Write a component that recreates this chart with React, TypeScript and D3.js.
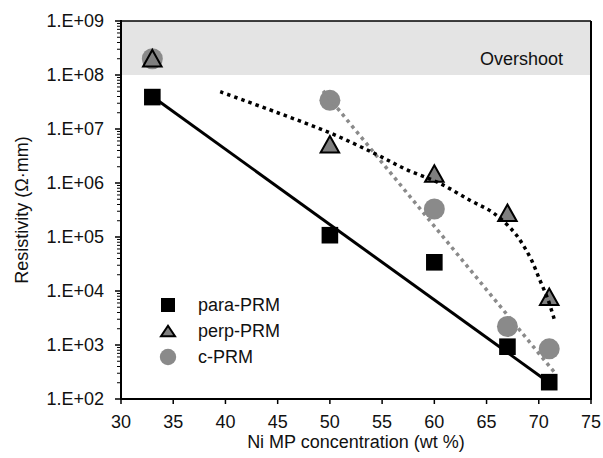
import React from 'react'
import * as d3 from 'd3'

// measured points
const paraX = [33, 50, 60, 67, 71]
const paraY = [3.9e7, 1.08e5, 3.4e4, 930, 205]

const perpX = [33, 50, 60, 67, 71]
const perpY = [2.05e8, 5.2e6, 1.5e6, 2.8e5, 7.8e3]

const cX = [33, 50, 60, 67, 71]
const cY = [2.0e8, 3.4e7, 3.3e5, 2.2e3, 850]

// trendlines
const paraTrendX = [33, 71]
const paraTrendY = [4.0e7, 2.0e2]

const cTrendX = [49.35, 71.45]
const cTrendY = [5.1e7, 3.2e2]

const perpTrendX = [39.5, 45, 50, 54.3, 57.4, 60.5, 63.4, 65.7, 67.6, 68.5, 69.3, 70.1, 70.9, 71.55]
const perpTrendY = [4.9e7, 2.0e7, 8.5e6, 3.5e6, 1.75e6, 9.9e5, 4.8e5, 2.75e5, 1.25e5, 7.1e4, 3.75e4, 1.6e4, 6.8e3, 2.7e3]

const xTicks = [30, 35, 40, 45, 50, 55, 60, 65, 70, 75]
const yTicks = [1e2, 1e3, 1e4, 1e5, 1e6, 1e7, 1e8, 1e9]
const yTickLabels = ['1.E+02', '1.E+03', '1.E+04', '1.E+05', '1.E+06', '1.E+07', '1.E+08', '1.E+09']

const legendNames = ['para-PRM', 'perp-PRM', 'c-PRM']
const overshootFrom = 1e8

const W = 603, H = 458
const FONT = '"Liberation Sans", Arial, sans-serif'
const GRAY = '#8a8a8a'

function zip(xs: number[], ys: number[]) {
  return xs.map((x, i) => [x, ys[i]] as [number, number])
}

function tri(cx: number, cy: number, w: number, h: number) {
  return `M${cx},${cy - h / 2}L${cx + w / 2},${cy + h / 2}L${cx - w / 2},${cy + h / 2}Z`
}

export default function App() {
  const left = 121, right = 591, top = 21, bottom = 399

  const x = d3.scaleLinear().domain([30, 75]).range([left, right])
  const y = d3.scaleLog().domain([1e2, 1e9]).range([bottom, top])

  const line = d3.line<[number, number]>().x(d => x(d[0])).y(d => y(d[1]))
  const curve = d3.line<[number, number]>()
    .x(d => x(d[0])).y(d => y(d[1]))
    .curve(d3.curveCatmullRom)

  const minor: number[] = []
  for (let e = 2; e < 9; e++) {
    for (let m = 2; m <= 9; m++) minor.push(m * Math.pow(10, e))
  }

  const legendX = 168, legendText = 198
  const legendY = [305, 331, 357]

  return (
    <div style={{ position: 'absolute', left: 0, top: 0 }}>
      <svg width={W} height={H} style={{ display: 'block', fontFamily: FONT }}>
        <rect x={0} y={0} width={W} height={H} fill='white' />

        {/* overshoot band */}
        <rect x={left} y={top} width={right - left} height={y(overshootFrom) - top} fill='#e4e4e4' />
        <text x={563} y={65} fontSize={18} textAnchor='end' fill='#111'>Overshoot</text>

        {/* markers */}
        {zip(cX, cY).map((d, i) => (
          <circle key={'c' + i} cx={x(d[0])} cy={y(d[1])} r={10.5} fill={GRAY} />
        ))}
        {zip(paraX, paraY).map((d, i) => (
          <rect key={'p' + i} x={x(d[0]) - 8.3} y={y(d[1]) - 8.3} width={16.6} height={16.6} fill='#000' />
        ))}
        {zip(perpX, perpY).map((d, i) => (
          <path key={'t' + i} d={tri(x(d[0]), y(d[1]), 18.5, 16.5)} fill='#7f7f7f'
            stroke='#000' strokeWidth={2} strokeLinejoin='miter' />
        ))}

        {/* trendlines */}
        <path d={line(zip(paraTrendX, paraTrendY)) || ''} fill='none' stroke='#000' strokeWidth={3} />
        <path d={line(zip(cTrendX, cTrendY)) || ''} fill='none' stroke={GRAY} strokeWidth={3.5} strokeDasharray='3.5,4' />
        <path d={curve(zip(perpTrendX, perpTrendY)) || ''} fill='none' stroke='#000' strokeWidth={3.5} strokeDasharray='3.5,4' />

        {/* frame */}
        <line x1={left} x2={right} y1={top} y2={top} stroke='#000' strokeWidth={1.5} />
        <line x1={right} x2={right} y1={top} y2={bottom} stroke='#000' strokeWidth={2} />
        <line x1={left} x2={left} y1={top - 1} y2={bottom + 1} stroke='#000' strokeWidth={2} />
        <line x1={left - 1} x2={right + 1} y1={bottom} y2={bottom} stroke='#000' strokeWidth={2} />

        {/* y axis */}
        {minor.map((v, i) => (
          <line key={'m' + i} x1={left - 4} x2={left} y1={y(v)} y2={y(v)} stroke='#000' strokeWidth={1} />
        ))}
        {yTicks.map((v, i) => (
          <g key={'y' + i}>
            <line x1={left - 6} x2={left} y1={y(v)} y2={y(v)} stroke='#000' strokeWidth={1.5} />
            <text x={104} y={y(v)} dy='0.35em' fontSize={18} textAnchor='end' fill='#111'>{yTickLabels[i]}</text>
          </g>
        ))}

        {/* x axis */}
        {xTicks.map((v, i) => (
          <g key={'x' + i}>
            <line x1={x(v)} x2={x(v)} y1={bottom} y2={bottom + 5} stroke='#000' strokeWidth={1.5} />
            <text x={x(v)} y={428} fontSize={18} textAnchor='middle' fill='#111'>{v}</text>
          </g>
        ))}

        <text x={(left + right) / 2} y={448} fontSize={18} textAnchor='middle' fill='#111'>Ni MP concentration (wt %)</text>
        <text transform={`translate(28,${(top + bottom) / 2}) rotate(-90)`} fontSize={18} textAnchor='middle' fill='#111'>Resistivity (Ω·mm)</text>

        {/* legend */}
        <rect x={legendX - 7} y={legendY[0] - 7} width={14} height={14} fill='#000' />
        <path d={tri(legendX, legendY[1], 14, 10.5)} fill='#7f7f7f' stroke='#000' strokeWidth={2} />
        <circle cx={legendX} cy={legendY[2]} r={8.2} fill={GRAY} />
        {legendNames.map((n, i) => (
          <text key={n} x={legendText} y={legendY[i]} dy='0.35em' fontSize={18} fill='#111'>{n}</text>
        ))}
      </svg>
    </div>
  )
}
